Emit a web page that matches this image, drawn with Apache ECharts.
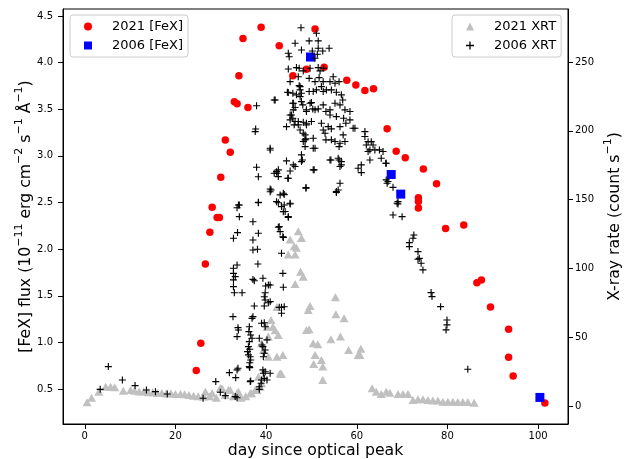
<!DOCTYPE html>
<html>
<head>
<meta charset="utf-8">
<script src="https://cdn.jsdelivr.net/npm/echarts@6/dist/echarts.min.js"></script>
<style>html,body{margin:0;padding:0;background:#fff;}#chart{width:629px;height:459px;}</style>
</head>
<body>
<div id="chart"></div>
<script>
// ---- data ----
const xTicks = [0, 20, 40, 60, 80, 100];
const leftTicks = [0.5, 1.0, 1.5, 2.0, 2.5, 3.0, 3.5, 4.0, 4.5];
const rightTicks = [0, 50, 100, 150, 200, 250];

// 2021 [FeX]: day, flux
const fex2021Day  = [24.6,25.6,26.6,27.6,28.1,29.2,29.7,30.0,31.0,32.1,33.0,33.6,34.0,34.9,36.0,38.9,42.9,45.9,48.9,50.8,52.8,57.8,59.8,61.8,63.7,66.7,68.7,70.7,73.6,73.6,73.6,74.7,77.6,79.6,83.6,86.5,87.5,89.5,93.5,93.5,94.5,101.5];
const fex2021Flux = [0.70,0.99,1.84,2.18,2.45,2.34,2.34,2.77,3.17,3.04,3.58,3.56,3.86,4.26,3.52,4.38,4.18,3.86,3.93,4.36,3.95,3.81,3.76,3.70,3.72,3.29,3.05,2.98,2.55,2.51,2.44,2.86,2.70,2.22,2.26,1.64,1.67,1.38,1.14,0.84,0.64,0.35];

// 2006 [FeX]
const fex2006Day  = [49.8, 67.6, 69.7, 100.4];
const fex2006Flux = [4.06, 2.80, 2.59, 0.41];

// 2021 XRT: day, rate
const xrt2021Day  = [0.5,1.5,3.1,4.6,5.7,6.6,8.5,10.1,11,12,13,14,15,16,17,18,19,20,21.1,22,23,24,25,26.2,26.6,27.5,28.1,29,29.9,30.3,31,31.7,32.1,32.8,33.6,33.9,34.5,35.5,36.5,36.8,37.6,38,38.3,38.7,39,39,39.4,40.2,40.5,40.5,41.1,41.5,42,42.4,42.4,42.7,43.1,43.7,43.4,45.3,44.9,46.2,46.4,47.1,47.8,47.6,48.2,46.7,46.4,48.9,49.3,49.7,49.5,50.4,51.4,50.8,52.2,50.5,52.5,52.5,55.3,55.4,57.2,54.3,56.4,58.2,60.3,60.9,60.7,63.4,64.3,65.4,66.5,67.3,69.1,70.2,71.3,72.4,73.5,74.6,75.7,76.8,77.9,79,80.1,81.2,82.3,83.4,84.5,85.9];
const xrt2021Rate = [2.7,6,10.4,14,14,13.6,11,11.6,11,10.5,10.5,10,10,9.5,9.5,9,9,8.7,8.7,8.5,8,7.5,7,6.8,10.4,7,9.2,6,13,12.9,8,11.6,11.6,7,9.4,10.4,6,7,9.2,9.2,11.6,11.6,21.3,14,16.5,45.6,40.7,57.6,50.4,35.8,62.5,57.6,55,72,35.8,51.6,23.8,37,23.3,121,110,116,88.7,127,122,97.6,94,115,110,55.2,69.8,72.7,55.7,45.6,44.8,37,33.4,30.5,28.6,18.9,79,66.6,63.7,48.5,50.4,40.7,37,41.5,37,12.9,10.4,8.7,10.4,9.7,8.7,8.7,8.7,4.4,4.9,4.9,4.4,3.9,3.9,3.1,3.1,3.1,2.9,2.9,2.9,2.4];

// 2006 XRT: day, rate
const xrt2006Day  = [3.4,5.2,8.3,11.1,13.6,15.6,18.2,26.1,28.9,29.9,31,33.2,33.6,31.9,33.3,33.8,33.6,36.6,38.5,38.5,39,39.4,39.8,40.2,40.9,36.5,39.3,39.6,38.9,
  34.1,34.1,33.7,32.8,33.6,32.8,32.8,33.2,32.8,32.8,33,34.7,32.7,33.8,33.6,33.9,33.9,33.6,
  38.3,37.1,38.3,37.1,37.1,38.1,38.2,37.1,37.4,37.4,37.1,36.9,36.3,36.6,36.9,36.1,35.9,36.1,36.5,36.6,36.3,36.2,36.3,36.4,36.4,36.4,37.9,37.7,37.6,37.9,38.3,38.3,
  39.3,40.5,39.8,39.6,40.5,39.6,39,39.6,38.5,39.1,39.3,39.6,39.4,39.8,39.8,39.9,40.2,39.8,40.9,40.9,40.9,41.1,41.8,41.8,
  42.7,43.1,43.7,43.4,43.7,43.8,42.9,43.4,43.4,40.9,44,42.7,44,45.3,44.9,43.8,44.9,42.9,43.8,44,40.9,40.9,42,42.7,42.4,43.8,42.3,42.7,43.1,42.3,43.4,44.2,45.3,
  47.7,46.4,49.5,51.5,51.5,53.9,44.9,45.1,47.8,50.2,51.3,52.5,50.8,44.9,46.7,47.3,48.2,49.7,51.5,51.9,52.7,45.3,47.1,47.3,49.5,50.8,51.7,52.6,54.1,54.8,55.2,56.1,
  44.7,45.9,46.7,47.8,49.5,50.4,51.1,52.2,52.6,53.3,54.4,55.5,56.6,
  45.9,46.4,48.1,48.9,49.7,50.3,51.5,52.6,53.2,54.1,55.2,56.3,56.9,57.4,58.5,
  54.1,55.5,57.1,58.5,45.3,45.9,47.1,48.2,44.5,46.2,47.5,48.9,50,52.2,52.6,53.7,54.4,56.3,57.6,59.2,
  48.2,48.8,48.2,50.4,50.4,53,53.2,54.4,55.2,56.3,56.1,57,57.4,44.5,47.8,47.8,46.4,50.4,54.1,55.9,56.6,45.3,44.9,48.8,55.5,56.3,60.3,
  46,48,50.6,48.8,44.8,51.1,47.5,47.5,44.9,47.5,46,47.8,50,46,48.9,50.8,45.6,45.3,46.4,47.1,48.9,48.6,48.6,48.6,50.8,
  54.3,56.1,56.6,56.3,55.5,55.9,
  59.6,61.8,61.8,62.5,63.2,62.1,63.6,62.9,64,62.5,65.8,65.4,66.5,62.9,61,61,66.5,66.9,68,69.1,69.1,68,70,72.6,72.4,71.6,71.6,73.5,73.5,73.8,74.2,74.6,76.4,76.6,78.5,79.9,79.9,79.7,84.5,65,66.4,66.7,68.9];
const xrt2006Rate = [12.1,28.6,18.9,14.8,11.6,10.4,8.7,5.6,17.7,10,7.5,6.8,6.0,24.2,20.6,27.4,26.2,18.2,12.1,14,18.9,23.8,24.9,18.9,23.8,17.7,26.2,20.1,16.5,
  146.1,137.6,126,121.9,102.5,100.1,96.4,94,91.6,86.7,82.3,82.3,64.9,56.9,50.4,55.2,146.1,144.1,
  147.7,133.9,125.5,120.6,113.4,113.9,103.2,92,91,72.7,64.9,63.7,57.6,51.6,49.2,43.1,39.5,37.1,35.8,33.4,28.6,54,46.8,41.2,31.4,27.9,218.2,201.3,199.4,173.5,166.6,148,
  92.8,88,82.3,79.4,75,72.7,60.1,60.5,49.2,44.3,43.1,38.3,35.8,57.6,77,87.2,48,40.7,187.3,186,157.7,157,222.4,169.1,
  129.9,126.7,123,111,96.4,86.3,71.7,71.7,67.4,155.7,153.6,147.7,146.1,146.8,137.6,141.2,137.1,130.3,122.5,72.1,87.9,75.8,222.4,171.6,169.1,154.6,170.3,166.7,153.4,148.5,144.9,141.3,147.3,
  274.9,263.6,265.3,265.3,260,260,256.3,253.8,258.7,258,255.6,258,252.7,244.9,245.9,245.4,243.5,245.4,245.9,243.5,245.4,235.7,239.3,232.8,238.1,235.7,238.6,235.7,235.7,239.3,234.5,235.7,
  228,227.3,226.1,227.3,228.5,228.5,229.7,232.1,228.5,229.7,229.7,228,226.1,
  220,216.9,218.8,214,220,215.9,215.9,218.8,214,215.2,220,218.8,222.4,215.2,214,
  211.5,210.3,209.1,207.9,211.5,209.1,206.7,206.2,203,204.3,200.6,204.3,206.7,205.5,200.6,203,201.4,203,205.5,201.8,
  198.2,194.1,192.2,194.6,187.3,198.2,193.4,193.4,192.2,190.9,188.5,197,192.2,178.1,182.5,177.6,174,171.6,178.8,180,177.6,170.8,165.5,158.7,155.8,161.9,172.8,
  175.2,178.8,171.6,158.2,165.5,270.9,232.1,229.7,227.8,224.8,220,221.2,220.5,215.2,215.2,215.2,211.5,207.9,206.7,204.3,205.5,197,193.4,188.5,187.3,
  178.8,178.8,175.2,174,155.1,157,
  201.8,199.4,195.8,192.1,192.1,189.7,189.7,186.1,186.1,184.9,184.9,180,176.4,178.8,175.2,169.6,164.3,163.1,158.9,148.5,146.8,138.8,137.6,124.3,121.9,118.7,115.8,112.2,106.6,107.3,103.7,98.9,82.4,79.5,72.2,62.5,58.9,55.3,26.7,186.1,176.4,161.9,147.3];

const pair = (xs, ys) => xs.map((x, i) => [x, ys[i]]);
const plusPath = 'path://M-0.16,-1L0.16,-1L0.16,-0.16L1,-0.16L1,0.16L0.16,0.16L0.16,1L-0.16,1L-0.16,0.16L-1,0.16L-1,-0.16L-0.16,-0.16Z';
const FONT = 'DejaVu Sans';

const nameRich = {
  m: {fontFamily: FONT, fontSize: 15.7, color: '#000', lineHeight: 20, verticalAlign: 'bottom'},
  s: {fontFamily: FONT, fontSize: 11, color: '#000', lineHeight: 13, verticalAlign: 'top'}
};

const chart = echarts.init(document.getElementById('chart'), null, {renderer: 'canvas'});
const legendBase = {
  orient: 'vertical', itemWidth: 8, itemHeight: 8, itemGap: 4,
  backgroundColor: 'rgba(255,255,255,0.8)', borderColor: '#cccccc', borderWidth: 1, borderRadius: 3,
  textStyle: {fontFamily: FONT, fontSize: 13, color: '#000', lineHeight: 15, padding: [0, 0, 0, 15]},
  padding: [4, 5, 4, 14], selectedMode: false
};
chart.setOption({
  animation: false,
  textStyle: {fontFamily: FONT},
  grid: {left: 63, right: 61, top: 9, bottom: 35, show: true, borderColor: '#000', borderWidth: 1,
    containLabel: false, outerBoundsMode: 'none'},
  legend: [
    Object.assign({}, legendBase, {left: 70, top: 15,
      data: [{name: '2021 [FeX]', icon: 'circle'}, {name: '2006 [FeX]', icon: 'rect'}]}),
    Object.assign({}, legendBase, {left: 452, top: 15,
      data: [{name: '2021 XRT', icon: 'triangle'}, {name: '2006 XRT', icon: plusPath}]})
  ],
  xAxis: {
    type: 'value', min: -4.8, max: 106.6,
    axisLine: {show: true, onZero: false, lineStyle: {color: '#000', width: 1}},
    axisTick: {show: true, length: 5, inside: false, customValues: xTicks, lineStyle: {color: '#000'}},
    axisLabel: {customValues: xTicks, fontFamily: FONT, fontSize: 10, color: '#000', margin: 7},
    splitLine: {show: false},
    name: 'day since optical peak', nameLocation: 'middle', nameGap: 19, nameMoveOverlap: false,
    nameTextStyle: {fontFamily: FONT, fontSize: 15.7, color: '#000'}
  },
  yAxis: [
    {
      type: 'value', position: 'left', min: 0.125, max: 4.575,
      axisLine: {show: true, onZero: false, lineStyle: {color: '#000', width: 1}},
      axisTick: {show: true, length: 5, customValues: leftTicks, lineStyle: {color: '#000'}},
      axisLabel: {customValues: leftTicks, fontFamily: FONT, fontSize: 10, color: '#000', margin: 10,
        formatter: v => Number(v).toFixed(1)},
      splitLine: {show: false},
      name: '{m|[FeX] flux (10}{s|−11}{m| erg cm}{s|−2}{m| s}{s|−1}{m| Å}{s|−1}{m|)}',
      nameLocation: 'middle', nameGap: 29, nameRotate: 90, nameMoveOverlap: false,
      nameTextStyle: {rich: nameRich}
    },
    {
      type: 'value', position: 'right', min: -13.1, max: 288.5,
      axisLine: {show: true, onZero: false, lineStyle: {color: '#000', width: 1}},
      axisTick: {show: true, length: 5, customValues: rightTicks, lineStyle: {color: '#000'}},
      axisLabel: {customValues: rightTicks, fontFamily: FONT, fontSize: 10, color: '#000', margin: 7},
      splitLine: {show: false},
      name: '{m|X-ray rate (count s}{s|−1}{m|)}',
      nameLocation: 'middle', nameGap: 35, nameRotate: 90, nameMoveOverlap: false,
      nameTextStyle: {rich: nameRich}
    }
  ],
  series: [
    {type: 'scatter', name: '2021 [FeX]', yAxisIndex: 0, symbol: 'circle', symbolSize: 7.5,
      itemStyle: {color: '#ff0000', opacity: 1}, data: pair(fex2021Day, fex2021Flux), z: 2},
    {type: 'scatter', name: '2006 [FeX]', yAxisIndex: 0, symbol: 'rect', symbolSize: 9,
      itemStyle: {color: '#0000ff', opacity: 1}, data: pair(fex2006Day, fex2006Flux), z: 3},
    {type: 'scatter', name: '2021 XRT', yAxisIndex: 1, symbol: 'triangle', symbolSize: [9, 8],
      itemStyle: {color: '#c0c0c0', opacity: 1}, data: pair(xrt2021Day, xrt2021Rate), z: 4},
    {type: 'scatter', name: '2006 XRT', yAxisIndex: 1, symbol: plusPath, symbolSize: 7,
      itemStyle: {color: '#000000', opacity: 1}, data: pair(xrt2006Day, xrt2006Rate), z: 5}
  ]
});
</script>
</body>
</html>
